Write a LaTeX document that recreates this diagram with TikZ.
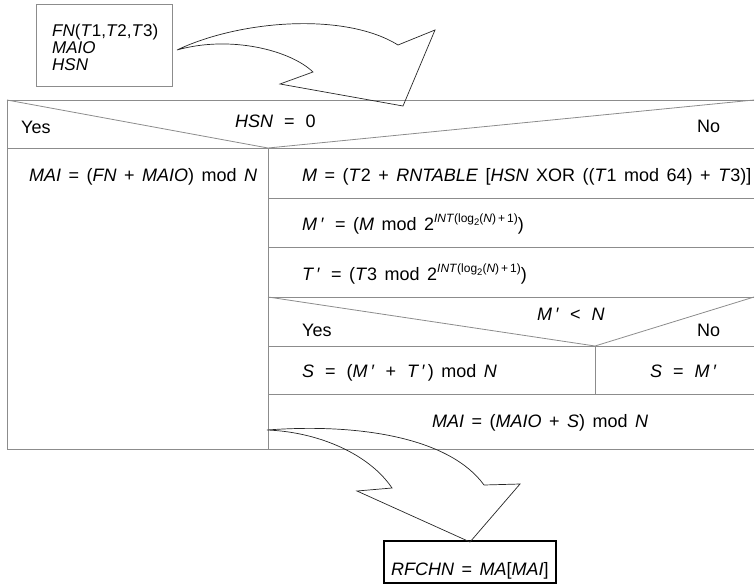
\documentclass[tikz,border=0pt]{standalone}
\usepackage{fontspec}
\setmainfont{Liberation Sans}[WordSpace=1.5]
\newcommand{\wgap}{\hspace{11pt}}
\newcommand{\myexp}{\raisebox{7.5pt}{\fontsize{12}{12}\selectfont\textit{INT}(log\raisebox{-3pt}{\fontsize{9.5}{9.5}\selectfont 2}(\textit{N})\,+\,1)}}
\tikzset{
  txt/.style={anchor=base west, inner sep=0pt, font=\fontsize{18}{18}\selectfont},
  intxt/.style={anchor=base west, inner sep=0pt, font=\fontsize{17}{17}\selectfont},
  grid/.style={draw=black!45, line width=0.8pt},
  bigarrow/.style={draw=black!85, line width=0.7pt, line join=miter},
  resbox/.style={draw=black, line width=1.8pt},
}
\begin{document}
\begin{tikzpicture}[x=1pt,y=-1pt]
\useasboundingbox (0,0) rectangle (755,584);
% input box
\draw[grid] (36,4) rectangle (172,86);
\node[intxt] (fn) at (52,36) {\textit{FN}(\textit{T}1,\textit{T}2,\textit{T}3)};
\node[intxt] (maio) at (52,53) {\textit{MAIO}};
\node[intxt] (hsn) at (52,70) {\textit{HSN}};
% table frame
\draw[grid] (7,100) -- (754,100);
\draw[grid] (7,148) -- (754,148);
\draw[grid] (7,100) -- (268,148) -- (754,100);
\draw[grid] (7,100) -- (7,449) -- (754,449);
\draw[grid] (268,148) -- (268,449);
\draw[grid] (268,198) -- (754,198);
\draw[grid] (268,247) -- (754,247);
\draw[grid] (268,297) -- (754,297);
\draw[grid] (268,297) -- (595,346) -- (754,297);
\draw[grid] (268,346) -- (754,346);
\draw[grid] (595,346) -- (595,394);
\draw[grid] (268,394) -- (754,394);
% texts
\node[txt] (yes1) at (21,133) {Yes};
\node[txt] (cond1) at (235,127) {\textit{HSN}\wgap=\wgap 0};
\node[txt] (no1) at (697,132) {No};
\node[txt] (maia) at (29,181) {\textit{MAI} = (\textit{FN} + \textit{MAIO}) mod \textit{N}};
\node[txt] (m) at (302,181) {\textit{M} = (\textit{T}2 + \textit{RNTABLE} [\textit{HSN} XOR ((\textit{T}1 mod 64) + \textit{T}3)]};
\node[txt] (mp) at (302,230) {\textit{M\,′}\wgap= (\textit{M} mod 2\myexp)};
\node[txt] (tp) at (302,280) {\textit{T\,′}\wgap= (\textit{T}3 mod 2\myexp)};
\node[txt] (cond2) at (537,320) {\textit{M\,′}\wgap<\wgap\textit{N}};
\node[txt] (yes2) at (302,336) {Yes};
\node[txt] (no2) at (697,336) {No};
\node[txt] (s1) at (302,377) {\textit{S}\wgap=\wgap(\textit{M\,′}\wgap+\wgap\textit{T\,′}\,) mod \textit{N}};
\node[txt] (s2) at (650,377) {\textit{S}\wgap=\wgap\textit{M\,′}};
\node[txt] (maib) at (432,427) {\textit{MAI} = (\textit{MAIO} + \textit{S}) mod \textit{N}};
% result box
\draw[resbox] (384,541) rectangle (556,583);
\node[txt] (res) at (391,575) {\textit{RFCHN} = \textit{MA}[\textit{MAI}]};
% big arrows
\draw[bigarrow] (177,50) .. controls (240,20) and (345,12) .. (398,45) -- (435,30) -- (403,106) -- (280,84) -- (313,72) .. controls (290,50) and (230,35) .. (177,50) -- cycle;
\draw[bigarrow] (267,430) .. controls (360,423) and (450,438) .. (484,485) -- (520,484) -- (470,542) -- (357,491) -- (392,488) .. controls (370,455) and (320,432) .. (267,430) -- cycle;
\end{tikzpicture}
\end{document}
